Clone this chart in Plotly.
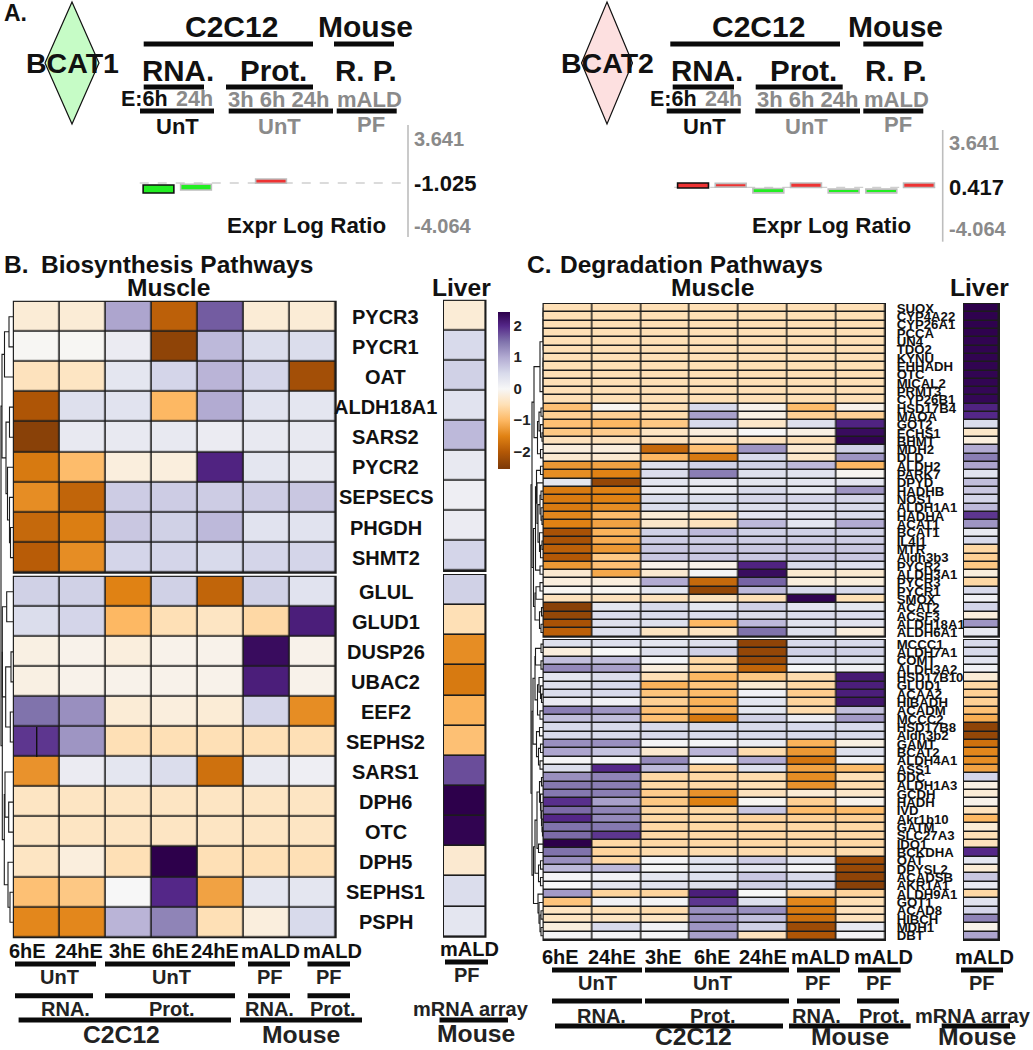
import plotly.graph_objects as go

W, H = 1033, 1050
COLS = ["6hE", "24hE", "3hE", "6hE ", "24hE ", "mALD", "mALD "]

# ---------- Panel A values ----------
A_STAGES = ["6h", "24h", "3h", "6h ", "24h ", "mALD R", "mALD P"]
BCAT1_BASE = -1.025
BCAT1_HIGH = [-1.16, -1.115, None, -0.75, None, None, None]
BCAT1_LOW = [-1.715, -1.51, None, -1.04, None, None, None]
BCAT2_BASE = 0.417
BCAT2_HIGH = [0.71, 0.69, 0.33, 0.71, 0.29, 0.29, 0.71]
BCAT2_LOW = [0.37, 0.43, 0.03, 0.40, 0.03, 0.03, 0.40]

# ---------- Panel B values ----------
B_UP_GENES = ["PYCR3", "PYCR1", "OAT", "ALDH18A1", "SARS2", "PYCR2", "SEPSECS", "PHGDH", "SHMT2"]
B_UP_MUSCLE = [
    [-.25, -.25, 1.05, -1.9, 1.65, -.25, -.25],
    [-.03, -.03, .2, -2.35, .85, .45, .45],
    [-.45, -.4, .3, .55, .9, .55, -2.15],
    [-2.05, .4, .35, -1.0, 1.0, .35, .3],
    [-2.4, .25, .25, .25, .2, .25, .25],
    [-1.6, -.95, -.2, -.2, 2.05, .3, .25],
    [-1.4, -1.85, .65, .65, .65, .65, .7],
    [-1.8, -1.55, .7, .6, .85, .35, .35],
    [-1.95, -1.4, .55, .55, .5, .55, .55],
]
B_UP_LIVER = [-.25, .5, .6, .35, .85, .25, .15, .2, .55]
B_LOW_GENES = ["GLUL", "GLUD1", "DUSP26", "UBAC2", "EEF2", "SEPHS2", "SARS1", "DPH6", "OTC", "DPH5", "SEPHS1", "PSPH"]
B_LOW_MUSCLE = [
    [.6, .6, -1.5, .6, -1.85, .6, .35],
    [.45, .55, -1.0, -.5, -.4, -.6, 2.1],
    [-.15, -.1, -.2, -.1, -.1, 2.3, -.1],
    [-.15, -.1, -.1, -.1, -.1, 2.1, -.1],
    [1.5, 1.25, -.25, -.2, -.25, .55, -1.4],
    [1.9, 1.2, -.5, -.5, -.5, -.5, -.5],
    [-1.35, .2, .3, .45, -1.7, .25, .15],
    [-.4, -.4, -.4, -.4, -.4, -.4, -.4],
    [-.4, -.4, -.4, -.4, -.4, -.4, -.4],
    [-.4, -.2, -.5, 2.45, -.5, -.5, -.5],
    [-.9, -.8, 0, 2.0, -1.2, .3, .3],
    [-1.45, -1.45, .9, 1.35, -.5, -.2, .5],
]
B_LOW_LIVER = [.6, -.5, -1.4, -1.6, -1.05, -.9, 1.75, 2.45, 2.4, -.3, .45, .3]

# ---------- Panel C values ----------
C_UP_GENES = ["SUOX", "CYP4A22", "CYP26A1", "PCCA", "UN4", "TDO2", "KYNU", "EHHADH", "OTC", "MICAL2", "PRMT3",
              "CYP26B1", "HSD17B4", "MAOA", "GOT2", "ECHS1", "BHMT", "MDH2", "DLD", "ALDH2", "PARK7", "DPYD",
              "HADHB", "NOS1", "ALDH1A1", "HADHA", "ACAT1", "BCAT1", "IL4I1", "MTR", "Aldh3b3", "PYCR2",
              "ALDH3A1", "PYCR3", "PYCR1", "SMOX", "ACAT2", "ACSF3", "ALDH18A1", "ALDH6A1"]
C_UP_MUSCLE = [
    [-.5, -.5, -.5, -.5, -.5, -.5, -.5],
    [-.5, -.5, -.5, -.5, -.5, -.5, -.5],
    [-.5, -.5, -.5, -.5, -.5, -.5, -.5],
    [-.5, -.5, -.5, -.5, -.5, -.5, -.5],
    [-.5, -.5, -.5, -.5, -.5, -.5, -.5],
    [-.5, -.5, -.5, -.5, -.5, -.5, -.5],
    [-.5, -.5, -.5, -.5, -.5, -.5, -.5],
    [-.5, -.5, -.5, -.5, -.5, -.5, -.5],
    [-.5, -.5, -.5, -.5, -.5, -.5, -.5],
    [-.5, -.5, -.5, -.5, -.5, -.5, -.5],
    [-.5, -.5, -.5, -.5, -.5, -.5, -.5],
    [-.5, -.5, -.5, -.5, -.5, -.5, -.5],
    [-.9, -.05, -.5, .5, -.1, -.95, -.1],
    [-.7, -.7, -.55, 1.1, -.15, -.7, -.7],
    [-.9, -1.0, -.8, .5, -.35, .4, 2.05],
    [-.8, -.75, -.4, -.2, 0, -.15, 2.3],
    [-.45, -.45, -.45, -.4, -.45, -.5, 2.4],
    [-.2, -.2, -1.8, -.9, 1.2, -.3, .6],
    [-.3, -.3, -1.0, -1.6, .5, -.35, 1.2],
    [-1.3, -1.2, .4, .6, .6, .85, -1.0],
    [-1.4, -1.5, .45, 1.4, .4, .35, -.05],
    [.3, -2.3, .3, .25, .3, .3, .3],
    [-1.6, -1.5, .2, .2, .5, .3, 1.2],
    [-1.6, -1.5, .45, .45, .55, .55, .55],
    [-1.6, -1.4, .45, .45, .45, .45, .5],
    [-1.45, -.95, -.25, -.4, .3, .3, .45],
    [-1.5, -1.2, -.35, -.45, .85, .3, 1.0],
    [-2.1, -1.05, .6, .85, .6, .6, .6],
    [-2.1, -1.1, .65, .65, .65, .65, .65],
    [-1.9, -1.3, .7, .7, .7, .7, .7],
    [-2.0, -.8, .7, .7, .7, .7, .7],
    [-1.3, -.9, -.1, -.1, 2.05, .5, .4],
    [-.3, -1.15, -.3, .05, 2.3, -.3, -.3],
    [-.2, -.2, 1.0, -1.8, 1.6, -.2, -.2],
    [-.05, -.05, .3, -2.3, .85, .5, .5],
    [-.45, -.45, -.45, -.45, -.5, 2.4, -.5],
    [-2.4, .3, .5, .3, .6, .3, .3],
    [-2.3, .45, .45, .45, .45, .45, .45],
    [-2.1, .4, .4, -1.0, .85, .35, .35],
    [-1.9, .4, -.4, -.4, 1.5, .4, -.2],
]
C_UP_LIVER = [2.45, 2.42, 2.42, 2.42, 2.4, 2.4, 2.4, 2.4, 2.38, 2.38, 2.36, 2.36, 2.05, 2.0, .45, -.35, -.2, 1.0,
              1.4, 1.05, .35, .8, .7, .55, .85, 1.9, 1.2, .25, .5, -.6, -.7, -.8, -.2, -.6, .5, .1, .55, -.2, 1.2, .25]
C_LOW_GENES = ["MCCC1", "ALDH7A1", "COMT", "ALDH3A2", "HSD17B10", "GLUD1", "ACAA2", "HIBADH", "ACADM", "MCCC2",
               "HSD17B8", "Aldh3b2", "GAMT", "BCAT2", "ALDH4A1", "ASS1", "DDC", "ALDH1A3", "GCDH", "HADH", "IVD",
               "Akr1b10", "GATM", "SLC27A3", "IDO1", "BCKDHA", "OAT", "DPYSL2", "ACADSB", "AKR1A1", "ALDH9A1",
               "GOT1", "ACAD8", "HIBCH", "MDH1", "DBT"]
C_LOW_MUSCLE = [
    [.4, .4, .3, .4, -2.35, .5, .5],
    [-.2, 0, .4, .6, -2.3, .6, .6],
    [.8, .8, .05, -.6, -2.25, .4, .4],
    [1.3, 1.1, -.2, -.6, -1.85, 0, .1],
    [.3, .45, -.5, -1.0, -.8, -.55, 2.15],
    [.4, .5, -1.05, -.85, -.3, -.6, 2.1],
    [.45, .5, -.85, -.95, .1, -.75, 2.1],
    [.2, .1, -.7, -1.05, .3, -.65, 2.2],
    [1.4, 1.2, -.9, -1.05, .3, -.55, .8],
    [.8, .8, -.9, -1.6, .6, .2, 1.15],
    [.5, .5, .5, .5, .5, .5, .5],
    [.5, .5, .5, .5, .5, .5, .5],
    [1.25, 1.25, .05, .05, .2, -1.05, -.15],
    [1.05, .75, -.3, .9, -.55, -1.3, .4],
    [.05, .05, 1.3, .05, 1.0, -1.65, .1],
    [.45, 2.0, .85, -.65, .4, -1.2, -.95],
    [1.25, 1.35, -.6, -.6, -.55, -1.4, -.5],
    [1.45, 1.4, -.6, -.6, -.5, -1.35, -.55],
    [1.45, 1.4, -.75, -1.35, -.45, -.25, -.35],
    [1.95, 1.1, -.8, -1.5, -.05, -.7, -.1],
    [1.55, 1.35, -.6, -.6, .7, -.95, -.95],
    [2.0, 1.3, -.6, -.6, -.65, -.7, -.7],
    [1.5, 1.45, -.6, -.6, -.6, -.6, -.6],
    [1.55, 1.9, -.6, -.6, -.6, -.6, -.6],
    [2.45, -.6, -.6, -.6, -.6, -.6, -.6],
    [1.5, -.65, -.55, -.55, -.55, -.55, -.55],
    [1.25, -.6, .05, .35, .65, .3, -2.2],
    [.85, .85, .05, .3, .3, .05, -2.25],
    [.05, .1, .3, .4, .7, .5, -2.35],
    [0, .3, .35, .4, .6, .5, -2.4],
    [1.15, -.65, -.65, 2.1, 0, -.65, -.65],
    [-.85, .1, .05, 1.9, .4, -1.45, -.5],
    [-.4, -.5, -.55, 1.25, 1.25, -1.6, -.45],
    [-.4, -.4, -.4, 1.25, .8, -1.7, -.45],
    [-.2, .5, .1, 1.2, .6, -2.2, .25],
    [.05, .05, .05, 1.1, -.45, -2.05, .05],
]
C_LOW_LIVER = [.5, .5, .35, .1, -.25, -.6, -.7, -.7, -.9, -1.1, -2.35, -2.3, -1.7, -1.45, -1.4, -1.2, .55, -.15,
               -.25, -.1, -.45, -1.0, -.25, -.5, -.45, 2.0, .3, -.25, .7, .25, -.6, .35, .55, 1.35, -.1, 1.05]


def flat(a, b):
    node = a
    for r in range(a + 1, b + 1):
        node = (0.3, node, r)
    return node


# Dendrograms: (merge height, left, right); a leaf is a row index
B_TREE = (12.5,
          (11.5, (9, (4.5, 0, 1), 2),
           (7.5, (4, 3, 4), (6, 5, (4, 6, (3, 7, 8))))),
          (11.2,
           (11.2, (6.8, 9, 10), (7.8, (2.5, 11, 12), (3.2, 13, 14))),
           (9.2, (8.5, 15, (4.8, 16, 17)), (5.5, 18, (3.5, 19, 20)))))
C_TREE = (12.5,
          (11.5,
           (9.5, (3.5, flat(0, 5), flat(6, 11)),
            (6, (4.5, (2.5, 12, 13), (3, 14, (1.5, 15, 16))), (3, 17, 18))),
           (10,
            (8, (7, (3, 19, 20), (6.5, 21, (5.5, (3.5, (2.5, 22, 23), (2.5, 24, (1.5, 25, 26))),
                                            (4, 27, (3, (1.5, 28, 29), 30))))), (3.5, 31, 32)),
            (8.5, (7.5, (3.5, 33, 34), 35), (4, (2, 36, 37), (2.5, 38, 39))))),
          (11.5,
           (10.5,
            (8.5, (8, (2.5, 40, 41), (2.5, 42, 43)),
             (6, (4.5, 44, (3, 45, (2, 46, 47))), (3.5, 48, 49))),
            (7, (4, 50, 51), (5, (3, 52, 53), (3.5, 54, 55)))),
           (10,
            (8.5, (6.5, (4, (2, 56, 57), (3, 58, (2.5, 59, (2, 60, (1.5, 61, (1, 62, 63)))))), (5, 64, 65)),
             (5, (3, 66, 67), (3, 68, 69))),
            (5.5, 70, (4.5, 71, (3.5, (2.5, 72, 73), (2.5, 74, 75)))))))

# ---------- helpers ----------
PUOR = [(-2.5, "#7f3b08"), (-2, "#b35806"), (-1.5, "#e08214"), (-1, "#fdb863"), (-.5, "#fee0b6"), (0, "#f7f7f7"),
        (.5, "#d8daeb"), (1, "#b2abd2"), (1.5, "#8073ac"), (2, "#542788"), (2.44, "#2d004b")]
CMIN, CMAX = -2.54, 2.44
cscale = [[0, PUOR[0][1]]] + [[(v - CMIN) / (CMAX - CMIN), c] for v, c in PUOR]
cscale[-1][0] = 1

fig = go.Figure()
annots, shapes, axes = [], [], {}
n_ax = [1]
FONT = "Liberation Sans"
px, py = (lambda x: x / W), (lambda y: 1 - y / H)


def txt(x, y, s, size, color="#111", anchor="center", bold=True):
    annots.append(dict(x=px(x), y=py(y), xref="paper", yref="paper",
                       text=f"<b>{s}</b>" if bold else s,
                       showarrow=False, xanchor=anchor, yanchor="middle", borderpad=0,
                       font=dict(family=FONT, size=size, color=color)))


def rule(x0, x1, y, width=5, color="#0a0a0a"):
    shapes.append(dict(type="line", xref="paper", yref="paper", x0=px(x0), x1=px(x1), y0=py(y), y1=py(y),
                       line=dict(color=color, width=width)))


def new_axes(left, right, top, bottom):
    n_ax[0] += 1
    n = n_ax[0]
    axes[f"xaxis{n}"] = dict(domain=[px(left), px(right)], anchor=f"y{n}", showgrid=False, zeroline=False,
                             showticklabels=False, ticks="", showline=False)
    axes[f"yaxis{n}"] = dict(domain=[py(bottom), py(top)], anchor=f"x{n}", showgrid=False, zeroline=False,
                             showticklabels=False, ticks="", showline=False)
    return n


def heat(z, left, right, top, bottom, gap=1, labels=None, label_size=13.2):
    n = new_axes(left, right, top, bottom)
    nr, nc = len(z), len(z[0])
    axes[f"xaxis{n}"]["range"] = [-.5, nc - .5]
    axes[f"yaxis{n}"]["range"] = [nr - .5, -.5]
    if labels:
        axes[f"yaxis{n}"].update(side="right", tickmode="array", tickvals=list(range(nr)), ticktext=labels,
                                 showticklabels=True, ticks="outside", ticklen=8, tickcolor="rgba(0,0,0,0)",
                                 tickfont=dict(family=FONT, size=label_size, color="#111", weight=700))
    shapes.append(dict(type="rect", xref="paper", yref="paper", layer="below", x0=px(left - 1), x1=px(right + 1),
                       y0=py(bottom + 1), y1=py(top - 1), fillcolor="#1c1c1c", line=dict(width=0)))
    fig.add_trace(go.Heatmap(z=z, x=list(range(nc)), y=list(range(nr)), coloraxis="coloraxis", xgap=gap, ygap=gap,
                             xaxis=f"x{n}", yaxis=f"y{n}", hoverinfo="skip"))


def tree(node, leaf_x, rowy, xs, ys):
    if not isinstance(node, tuple):
        return rowy(node), leaf_x
    h, a, b = node
    ya, xa = tree(a, leaf_x, rowy, xs, ys)
    yb, xb = tree(b, leaf_x, rowy, xs, ys)
    xm = leaf_x - h
    xs += [xa, xm, xm, xb, None]
    ys += [ya, ya, yb, yb, None]
    return (ya + yb) / 2, xm


def dendro(node, leaf_x, rowy):
    xs, ys = [], []
    tree(node, leaf_x, rowy, xs, ys)
    fig.add_trace(go.Scatter(x=xs, y=ys, mode="lines", line=dict(color="#1c1c1c", width=1.1),
                             xaxis="x", yaxis="y", hoverinfo="skip", showlegend=False))


def bars(high, low, base, left, right, top, bottom, ytop, ybot, dash_to):
    n = new_axes(left, right, top, bottom)
    axes[f"xaxis{n}"].update(type="category", categoryorder="array", categoryarray=A_STAGES, range=[-.5, 6.5])
    axes[f"yaxis{n}"]["range"] = [ybot, ytop]
    shapes.append(dict(type="line", xref="paper", yref=f"y{n}", x0=px(left), x1=px(dash_to), y0=base, y1=base,
                       layer="below", line=dict(color="#cfcfcf", width=1.3, dash="dash")))
    h = [None if a is None else a - b for a, b in zip(high, low)]
    col = ["rgba(0,0,0,0)" if a is None else ("#ee3333" if (a + b) / 2 >= base else "#22ee22")
           for a, b in zip(high, low)]
    edge = ["#111111"] + ["#bdbdbd"] * 6
    fig.add_trace(go.Bar(x=A_STAGES, y=h, base=low, width=.82, marker=dict(color=col, line=dict(color=edge, width=1.6)),
                         xaxis=f"x{n}", yaxis=f"y{n}", hoverinfo="skip", showlegend=False))


# canvas axis for the dendrograms
axes["xaxis"] = dict(domain=[0, 1], range=[0, W], visible=False)
axes["yaxis"] = dict(domain=[0, 1], range=[H, 0], visible=False)

# ---------- Panel A ----------
txt(3, 13, "A.", 23, anchor="left")
GRAY = "#8a8a8a"
for (fill, cx, half) in [("#c6fcc6", 72, 27), ("#fde0e0", 607, 25.5)]:
    path = f"M {px(cx)},{py(2)} L {px(cx + half)},{py(63)} L {px(cx)},{py(124)} L {px(cx - half)},{py(63)} Z"
    shapes.append(dict(type="path", xref="paper", yref="paper", path=path, fillcolor=fill,
                       line=dict(color="#111", width=1.2)))
txt(72, 63, "BCAT1", 28.5)
txt(607.5, 63, "BCAT2", 28.5)

for (c2, mo, r1, r2, p1, p2, rp, e6, h24, h3, mald, u1, u2, pf, vx, vt, vb, lab, ymid, ytxt, expr) in [
    (231.7, 365.7, (143.7, 313), (334, 394), (143.7, 204), (226, 313), 365.7, 144.5, 194, 278, 369.3, 177.7, 279, 371,
     408, 125, 237, "-1.025", 183.3, (139, 225.7), 306.7),
    (758.3, 895, (670.3, 840), (863.3, 923.3), (672.7, 734), (755.7, 842.7), 895.7, 673.7, 723.3, 807.7, 896.7, 704.3,
     806, 898.3, 942.7, 130, 241.7, "0.417", 187.3, (143, 229.3), 831),
]:
    txt(c2, 26, "C2C12", 30)
    txt(mo, 26, "Mouse", 30)
    rule(*r1, 44)
    rule(*r2, 44)
    txt((p1[0] + p1[1]) / 2 + 4, 70.7, "RNA.", 29.5)
    txt((p2[0] + p2[1]) / 2 + 4, 70.7, "Prot.", 29.5)
    txt(rp, 70.7, "R. P.", 29.5)
    rule(*p1, 87)
    rule(*p2, 87)
    txt(e6, 99, "E:6h", 21.5)
    txt(h24, 99, "24h", 21.5, GRAY)
    txt(h3, 99, "3h 6h 24h", 22, GRAY)
    txt(mald, 99, "mALD", 22, GRAY)
    txt(u1, 126, "UnT", 22)
    txt(u2, 126, "UnT", 22, GRAY)
    txt(pf, 124, "PF", 22, GRAY)
    shapes.append(dict(type="line", xref="paper", yref="paper", x0=px(vx), x1=px(vx), y0=py(vt), y1=py(vb),
                       line=dict(color="#bdbdbd", width=1.6)))
    txt(vx + 5.3, ytxt[0], "3.641", 20, GRAY, "left")
    txt(vx + 5.3, ymid, lab, 22, "#111", "left")
    txt(vx + 5.3, ytxt[1], "-4.064", 20, GRAY, "left")
    txt(expr, 225.7, "Expr Log Ratio", 22.4)
rule(140, 214, 111)
rule(228.7, 333, 111)
rule(336.7, 396.7, 111)
rule(666.7, 740.7, 111)
rule(755.3, 860, 111)
rule(863.3, 923.3, 111)

bars(BCAT1_HIGH, BCAT1_LOW, BCAT1_BASE, 139.75, 402.25, 125, 237, 2.975, -4.749, 405)
bars(BCAT2_HIGH, BCAT2_LOW, BCAT2_BASE, 674.2, 937.8, 130, 241.7, 4.369, -3.335, 938)

# ---------- Panel B ----------
txt(3, 264, "B.", 24.5, anchor="left")
txt(40, 264, "Biosynthesis Pathways", 24.5, anchor="left")
txt(168, 288, "Muscle", 24.6)
txt(461.7, 288, "Liver", 24.6)
B_L, B_R = 13.8, 335.7
heat(B_UP_MUSCLE, B_L, B_R, 301.7, 572.7, gap=1.6)
heat(B_LOW_MUSCLE, B_L, B_R, 576.7, 937.3, gap=1.6)
heat([[v] for v in B_UP_LIVER], 444, 485.5, 300.7, 571, gap=1.6)
heat([[v] for v in B_LOW_LIVER], 444, 485.5, 575, 936.7, gap=1.6)
for i, g in enumerate(B_UP_GENES):
    txt(385.5, 301.7 + (i + .5) * 30.11, g, 20)
for i, g in enumerate(B_LOW_GENES):
    txt(385.5, 576.7 + (i + .5) * 30.05, g, 20)
shapes.append(dict(type="line", xref="paper", yref="paper", x0=px(36.7), x1=px(36.7), y0=py(727), y1=py(757),
                   line=dict(color="#111", width=1.4)))


def b_rowy(r):
    return 301.7 + (r + .5) * 30.11 if r < 9 else 576.7 + (r - 9 + .5) * 30.05


dendro(B_TREE, 13.5, b_rowy)

for x, s in zip([27, 78.5, 127.5, 170.5, 215, 270, 332], COLS):
    txt(x, 950.7, s.strip(), 20)
txt(469, 949, "mALD", 20)
for a, b in [(15, 96), (105, 235), (248, 290), (307.5, 350)]:
    rule(a, b, 964)
rule(445, 488, 962)
for x, s in [(59.6, "UnT"), (171, "UnT"), (269.5, "PF"), (329, "PF")]:
    txt(x, 977, s, 20, "#222")
txt(467, 975, "PF", 20, "#222")
for a, b in [(15, 93), (105, 235), (248, 290), (307.5, 350)]:
    rule(a, b, 995.7)
for x, s in [(65, "RNA."), (172, "Prot."), (269, "RNA."), (333, "Prot.")]:
    txt(x, 1009, s, 20, "#222")
txt(471, 1009, "mRNA array", 20, "#222")
for a, b in [(18.6, 231), (240, 362), (439.5, 508)]:
    rule(a, b, 1020)
txt(121.5, 1034, "C2C12", 24.7, "#222")
txt(301, 1034, "Mouse", 24.7, "#222")
txt(476, 1033, "Mouse", 24.7, "#222")

# ---------- Panel C ----------
txt(526, 264, "C.", 24.5, anchor="left")
txt(559.3, 264, "Degradation Pathways", 24.5, anchor="left")
txt(712.3, 288, "Muscle", 24.6)
txt(979, 288, "Liver", 24.6)
C_L, C_R = 543.5, 885
heat(C_UP_MUSCLE, C_L, C_R, 304, 636.7, gap=1.5, labels=C_UP_GENES)
heat(C_LOW_MUSCLE, C_L, C_R, 640, 940, gap=1.5, labels=C_LOW_GENES)
heat([[v] for v in C_UP_LIVER], 964, 999, 304, 636.7, gap=1.5)
heat([[v] for v in C_LOW_LIVER], 964, 999, 640, 940, gap=1.5)


def c_rowy(r):
    return 304 + (r + .5) * 8.3175 if r < 40 else 640 + (r - 40 + .5) * 8.333


dendro(C_TREE, 543.5, c_rowy)

for x, s in zip([560, 611.7, 663, 712, 763, 820, 883], COLS):
    txt(x, 956.7, s.strip(), 20)
txt(984, 956.7, "mALD", 20)
for a, b in [(552, 642), (645, 789), (797, 840), (858, 900.7), (961, 1003)]:
    rule(a, b, 970)
for x, s in [(597, "UnT"), (712, "UnT"), (818, "PF"), (879, "PF"), (982, "PF")]:
    txt(x, 982.7, s, 20, "#222")
for a, b in [(552, 642), (645, 789), (797, 840), (857, 899)]:
    rule(a, b, 1001)
for x, s in [(601.7, "RNA."), (713, "Prot."), (816.7, "RNA."), (881.7, "Prot.")]:
    txt(x, 1016, s, 20, "#222")
txt(972.7, 1016, "mRNA array", 20, "#222")
for a, b in [(555, 783), (789, 910.7), (941.7, 1010)]:
    rule(a, b, 1026)
txt(693, 1036, "C2C12", 24.7, "#222")
txt(850, 1036, "Mouse", 24.7, "#222")
txt(977, 1036, "Mouse", 24.7, "#222")

fig.update_layout(
    width=W, height=H, autosize=False, margin=dict(l=0, r=0, t=0, b=0, pad=0, autoexpand=False),
    paper_bgcolor="white", plot_bgcolor="rgba(0,0,0,0)", showlegend=False, barmode="overlay",
    font=dict(family=FONT), annotations=annots, shapes=shapes,
    coloraxis=dict(cmin=CMIN, cmax=CMAX, colorscale=cscale,
                   colorbar=dict(x=px(498.3), xanchor="left", thickness=12.4, thicknessmode="pixels",
                                 len=(469 - 311.7) / H, lenmode="fraction", y=py(311.7), yanchor="top",
                                 xpad=0, ypad=0, outlinewidth=0, tickmode="array", tickvals=[-2, -1, 0, 1, 2],
                                 ticks="", tickfont=dict(family=FONT, size=15, color="#222", weight=700))),
    **axes,
)
fig.write_html("out.html", config=dict(displayModeBar=False),
               post_script="document.body.style.margin='0';document.body.style.overflow='hidden';")
